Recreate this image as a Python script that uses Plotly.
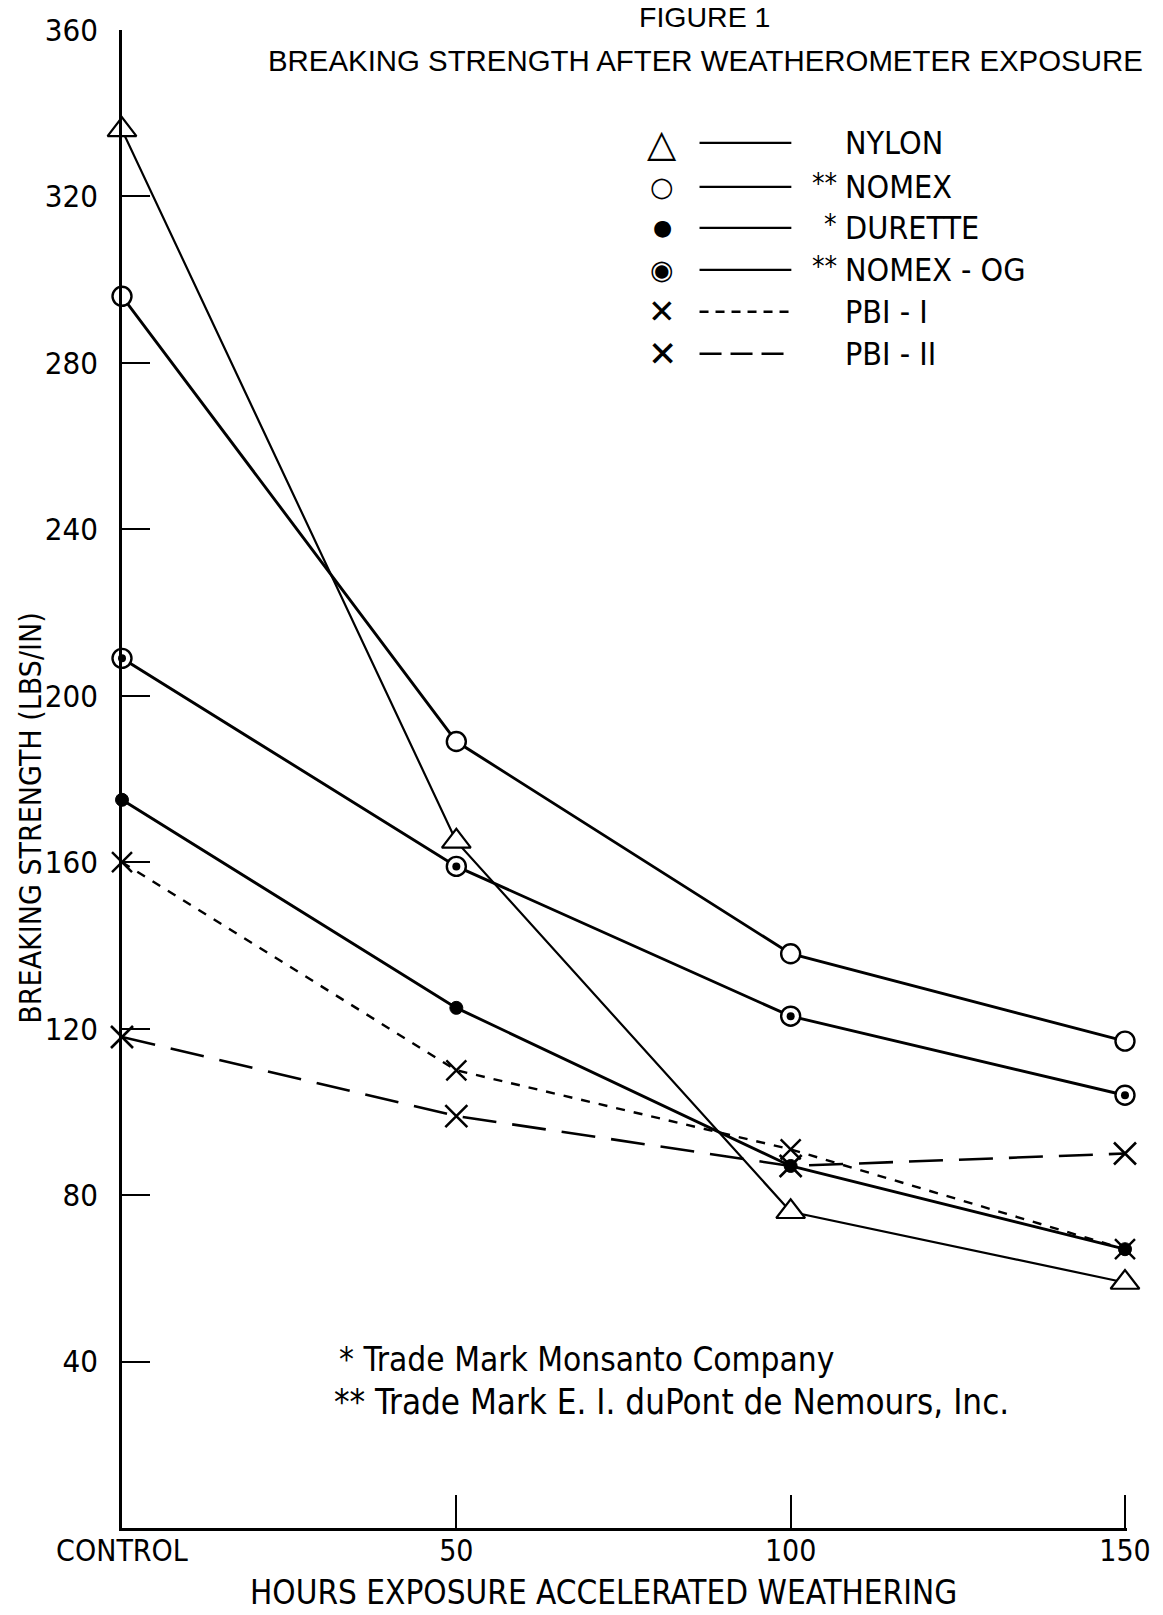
import plotly.graph_objects as go

# ---------------- data ----------------
hours = [0, 50, 100, 150]
x_tick_labels = ["CONTROL", "50", "100", "150"]
y_tick_values = [40, 80, 120, 160, 200, 240, 280, 320, 360]

nylon = [336, 165, 76, 59]
nomex = [296, 189, 138, 117]
durette = [175, 125, 87, 67]
nomex_og = [209, 159, 123, 104]
pbi_1 = [160, 110, 91, 67]
pbi_2 = [118, 99, 87, 90]

series_names = ["NYLON", "NOMEX", "DURETTE", "NOMEX - OG", "PBI - I", "PBI - II"]
trademark_marks = ["", "**", "*", "**", "", ""]
legend_glyphs = ["\u25B3", "\u25CB", "\u25CF", "\u25C9", "\u2715", "\u2715"]

title_1 = "FIGURE 1"
title_2 = "BREAKING STRENGTH AFTER WEATHEROMETER EXPOSURE"
x_title = "HOURS EXPOSURE ACCELERATED WEATHERING"
y_title = "BREAKING STRENGTH (LBS/IN)"
footnote_1 = "* Trade Mark Monsanto Company"
footnote_2 = "** Trade Mark E. I. duPont de Nemours, Inc."

# ---------------- layout helpers ----------------
W, H = 1163, 1615
L, R, T, B = 122, 23, 29, 87
PW, PH = W - L - R, H - T - B
FONT = "DejaVu Sans Condensed, DejaVu Sans, sans-serif"
INK = "black"


def px(x):
    return (x - L) / PW


def py(y):
    return (H - B - y) / PH


fig = go.Figure()

line_styles = [
    dict(width=2.2, dash="solid"),
    dict(width=2.9, dash="solid"),
    dict(width=2.9, dash="solid"),
    dict(width=2.9, dash="solid"),
    dict(width=2.4, dash="9px,9px"),
    dict(width=2.6, dash="34px,16px"),
]
series_values = [nylon, nomex, durette, nomex_og, pbi_1, pbi_2]
marker_styles = [
    dict(symbol="triangle-up", size=25, color="white", line=dict(color=INK, width=2.2)),
    dict(symbol="circle", size=19, color="white", line=dict(color=INK, width=2.4)),
    dict(symbol="circle", size=13, color=INK, line=dict(color=INK, width=1)),
    dict(symbol="circle", size=19, color="white", line=dict(color=INK, width=2.4)),
    dict(symbol="x-thin", size=20, color=INK, line=dict(color=INK, width=2.4)),
    dict(symbol="x-thin", size=22, color=INK, line=dict(color=INK, width=2.6)),
]

for name, vals, ls, ms in zip(series_names, series_values, line_styles, marker_styles):
    fig.add_trace(go.Scatter(
        x=hours, y=vals, name=name, mode="lines+markers",
        line=dict(color=INK, width=ls["width"], dash=ls["dash"]),
        marker=ms, cliponaxis=False, showlegend=False,
    ))

# centre dot of the NOMEX - OG symbol
fig.add_trace(go.Scatter(
    x=hours, y=nomex_og, mode="markers",
    marker=dict(symbol="circle", size=8, color=INK),
    cliponaxis=False, showlegend=False, hoverinfo="skip",
))

annotations = []
shapes = []

# titles
annotations.append(dict(text=title_1, x=px(712), y=py(16), xref="paper", yref="paper",
                        showarrow=False, xanchor="center", yanchor="middle",
                        font=dict(family="Liberation Sans, Arial, sans-serif", size=28.5, color=INK)))
annotations.append(dict(text=title_2, x=px(713), y=py(60), xref="paper", yref="paper",
                        showarrow=False, xanchor="center", yanchor="middle",
                        font=dict(family="Liberation Sans, Arial, sans-serif", size=29.4, color=INK)))
annotations.append(dict(text=x_title, x=px(610), y=py(1614), xref="paper", yref="paper",
                        showarrow=False, xanchor="center", yanchor="bottom",
                        font=dict(family=FONT, size=33, color=INK)))
annotations.append(dict(text=y_title, x=px(29), y=py(818), xref="paper", yref="paper",
                        showarrow=False, xanchor="center", yanchor="middle", textangle=-90,
                        font=dict(family=FONT, size=30, color=INK)))

# footnotes
annotations.append(dict(text=footnote_1, x=px(340), y=py(1359), xref="paper", yref="paper",
                        showarrow=False, xanchor="left", yanchor="middle",
                        font=dict(family=FONT, size=33.2, color=INK)))
annotations.append(dict(text=footnote_2, x=px(335), y=py(1402), xref="paper", yref="paper",
                        showarrow=False, xanchor="left", yanchor="middle",
                        font=dict(family=FONT, size=34.7, color=INK)))

# legend
legend_rows = [142, 186, 227, 269, 311, 353]
legend_dashes = ["solid", "solid", "solid", "solid", "9px,7px", "22px,9px"]
glyph_sizes = [38, 27, 22, 27, 33, 35]
for i, name in enumerate(series_names):
    yy = legend_rows[i]
    annotations.append(dict(text=legend_glyphs[i], x=px(669), y=py(yy), xref="paper", yref="paper",
                            showarrow=False, xanchor="center", yanchor="middle",
                            font=dict(family="DejaVu Sans, sans-serif", size=glyph_sizes[i], color=INK)))
    shapes.append(dict(type="line", xref="paper", yref="paper",
                       x0=px(707), x1=px(800), y0=py(yy), y1=py(yy),
                       line=dict(color=INK, width=2.4, dash=legend_dashes[i])))
    if trademark_marks[i]:
        annotations.append(dict(text=trademark_marks[i], x=px(848), y=py(yy - 3), xref="paper", yref="paper",
                                showarrow=False, xanchor="right", yanchor="middle",
                                font=dict(family=FONT, size=28, color=INK)))
    annotations.append(dict(text=name, x=px(852), y=py(yy), xref="paper", yref="paper",
                            showarrow=False, xanchor="left", yanchor="middle",
                            font=dict(family=FONT, size=32, color=INK)))

fig.update_layout(
    width=W, height=H,
    margin=dict(l=L, r=R, t=T, b=B, pad=0),
    paper_bgcolor="white", plot_bgcolor="white",
    showlegend=False,
    annotations=annotations,
    shapes=shapes,
    xaxis=dict(
        range=[0, 150.3], tickvals=hours, ticktext=x_tick_labels,
        showline=True, linecolor=INK, linewidth=2.6,
        ticks="inside", ticklen=33, tickwidth=2, tickcolor=INK,
        showgrid=False, zeroline=False, ticklabelstandoff=-6,
        ticklabeloverflow="allow",
        tickfont=dict(family=FONT, size=30, color=INK),
    ),
    yaxis=dict(
        range=[0, 360], tickvals=y_tick_values,
        showline=True, linecolor=INK, linewidth=2.6,
        ticks="inside", ticklen=28, tickwidth=2, tickcolor=INK,
        showgrid=False, zeroline=False, ticklabelstandoff=15,
        tickfont=dict(family=FONT, size=31, color=INK),
    ),
)

fig.write_html(
    "out.html",
    config={"displayModeBar": False},
    post_script="document.body.style.margin='0px';document.body.style.overflow='hidden';",
)
